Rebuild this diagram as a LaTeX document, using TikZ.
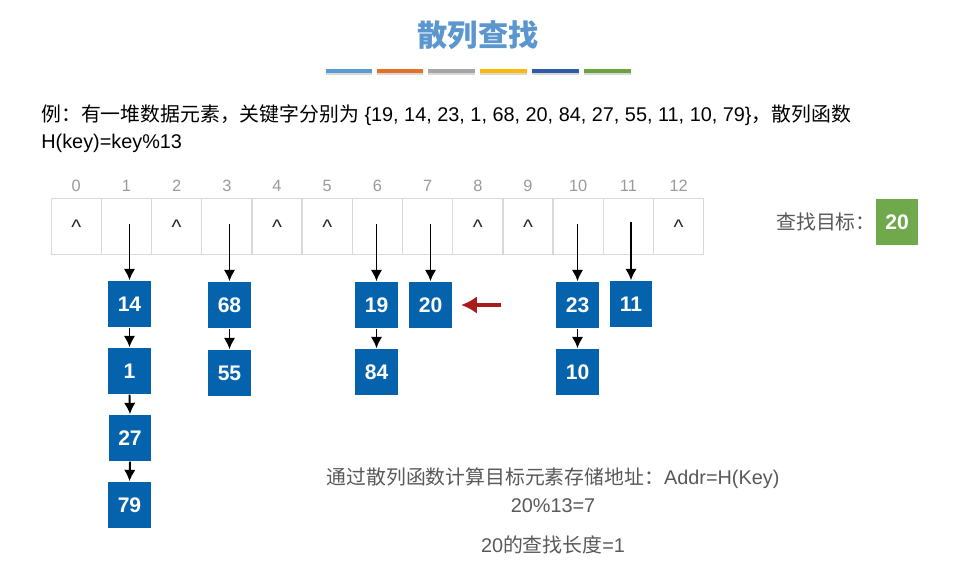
\documentclass[tikz,border=0pt]{standalone}
\usepackage{fontspec}
\setmainfont{Liberation Sans}
\newfontfamily\cjk{Noto Sans CJK SC}
\newcommand{\zh}[1]{{\cjk #1}}
\usetikzlibrary{shadows,arrows.meta}
\definecolor{titleblue}{HTML}{5B96CF}
\definecolor{keyblue}{HTML}{0563AE}
\definecolor{goalgreen}{HTML}{70A94C}
\definecolor{cellgray}{HTML}{D9D9D9}
\definecolor{indexgray}{HTML}{9A9A9A}
\definecolor{notegray}{HTML}{595959}
\definecolor{darkred}{HTML}{A81C1C}
\definecolor{bar1}{HTML}{5B9BD5}
\definecolor{bar2}{HTML}{E56F24}
\definecolor{bar3}{HTML}{A5A5A5}
\definecolor{bar4}{HTML}{FFBA08}
\definecolor{bar5}{HTML}{2F5AA8}
\definecolor{bar6}{HTML}{6AA33F}
\tikzset{
  keybox/.style={draw=none,fill=keyblue,text=white,minimum width=24.4pt,minimum height=26.6pt,
    inner sep=0pt,font=\fontsize{12}{13}\selectfont\bfseries},
  cellbox/.style={draw=cellgray,line width=0.6pt,minimum width=28.45pt,minimum height=32.3pt,inner sep=0pt},
  barline/.style={minimum width=26.4pt,minimum height=2.8pt,inner sep=0pt,drop shadow={shadow xshift=0pt,shadow yshift=-1pt,opacity=0.3}},
  linkarrow/.style={-{Latex[length=6.5pt,width=6.5pt]},line width=1.1pt,black},
}
\begin{document}
\begin{tikzpicture}[x=0.02cm,y=-0.02cm]
\useasboundingbox (0,0) rectangle (954,574);
\fill[white] (0,0) rectangle (954,574);

\node[text=titleblue,font=\cjk\fontsize{17.2}{20}\selectfont\bfseries] (title) at (478,35) {散列查找};
\foreach \c [count=\i] in {349,400,451.5,503.5,555.5,607.5}
  \node[barline,fill=bar\i] (bar\i) at (\c,71) {};

\node[anchor=west,inner sep=0pt,font=\fontsize{11.3}{13}\selectfont] (example) at (41,115)
  {\zh{例：有一堆数据元素，关键字分别为} \{19, 14, 23, 1, 68, 20, 84, 27, 55, 11, 10, 79\}\zh{，散列函数}};
\node[anchor=west,inner sep=0pt,font=\fontsize{11.3}{13}\selectfont] (hash) at (41,143) {H(key)=key\%13};

% the table
\foreach \i in {0,...,12}{
  \node[cellbox] (cell\i) at ({76.2+50.2*\i},226.5) {};
  \node[text=indexgray,font=\fontsize{9.3}{10}\selectfont] (idx\i) at ({76.2+50.2*\i},186) {\i};
}
\foreach \i in {0,2,4,5,8,9,12}
  \node[font=\fontsize{12}{10}\selectfont,text=black!85] (mark\i) at ({76.2+50.2*\i},227) {\textasciicircum};

% keys
\node[keybox] (k14) at (129.5,304) {14};
\node[keybox] (k1) at (129.5,371) {1};
\node[keybox] (k27) at (130,438) {27};
\node[keybox] (k79) at (129.5,505) {79};
\node[keybox] (k68) at (229.5,305) {68};
\node[keybox] (k55) at (229.5,373) {55};
\node[keybox] (k19) at (376.5,305) {19};
\node[keybox] (k84) at (376.5,372) {84};
\node[keybox] (k20) at (430.5,305) {20};
\node[keybox] (k23) at (577.5,305) {23};
\node[keybox] (k10) at (577.5,372) {10};
\node[keybox] (k11) at (631,304) {11};

\coordinate (from1) at (129.5,224);
\coordinate (from3) at (229.5,224);
\coordinate (from6) at (376.5,224);
\coordinate (from7) at (430.5,224);
\coordinate (from10) at (577.5,224);
\coordinate (from11) at (631,222);
\foreach \a/\b in {from1/k14,from3/k68,from6/k19,from7/k20,from10/k23,from11/k11}
  \draw[linkarrow] (\a) -- (\b.north);
\foreach \a/\b in {k14/k1,k1/k27,k27/k79,k68/k55,k19/k84,k23/k10}
  \draw[linkarrow] (\a.south) -- (\b.north);

\coordinate (pointer) at (501,305);
\draw[-{Latex[length=9pt,width=10pt]},line width=2.2pt,darkred,shorten >=5pt] (pointer) -- (k20.east);

% the goal
\node[text=notegray,font=\cjk\fontsize{11.3}{13}\selectfont] (goal) at (826,222) {查找目标：};
\node[keybox,fill=goalgreen] (goalkey) at (897,222) {20};

% notes
\node[text=notegray,font=\fontsize{11.3}{13}\selectfont] (addr) at (553,478) {\zh{通过散列函数计算目标元素存储地址：}Addr=H(Key)};
\node[text=notegray,font=\fontsize{11.3}{13}\selectfont] (calc) at (553,506) {20\%13=7};
\node[text=notegray,font=\fontsize{11.3}{13}\selectfont] (len) at (553,545) {20\zh{的查找长度}=1};
\end{tikzpicture}
\end{document}
